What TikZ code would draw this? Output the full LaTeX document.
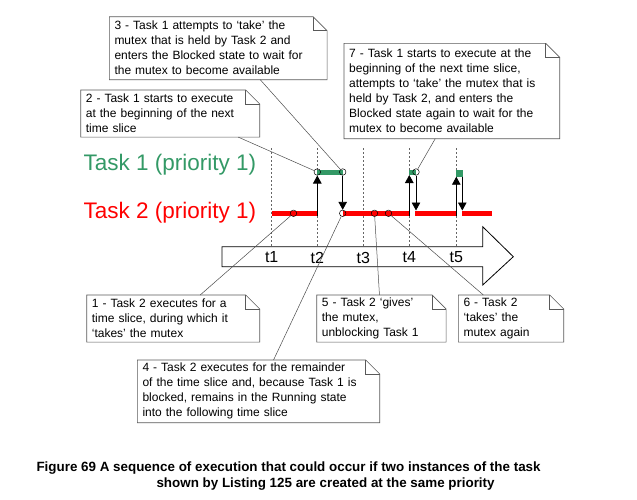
\documentclass[tikz,border=0pt]{standalone}
\usepackage{fontspec}
\setmainfont{Liberation Sans}
\usepackage{tikz}
\usetikzlibrary{
  calc,
  arrows.meta
}
\definecolor{taskgreen}{RGB}{51,153,102}
\definecolor{taskred}{RGB}{255,0,0}
\tikzset{
  note/.style={rectangle, inner xsep=5pt, inner ysep=0pt, align=left,
    anchor=north west, font=\fontsize{12}{15}\selectfont},
  noteline/.style={draw=black!65, line width=0.6pt},
  leader/.style={draw=black!70, line width=0.5pt},
  dot/.style={circle, draw, line width=0.5pt, inner sep=0pt, minimum size=6.5pt},
  flow/.style={-{Triangle[width=8.5pt,length=8pt]}, line width=0.9pt}
}

\begin{document}
\begin{tikzpicture}[
    x=1pt, y=-1pt,
    tick/.style={draw=black!60, line width=0.5pt, dash pattern=on 2pt off 2pt},
    run1/.style={draw=taskgreen, line width=5pt},
    run2/.style={draw=taskred, line width=5pt},
    tasklabel/.style={anchor=base west, font=\fontsize{22.5}{27}\selectfont},
    slice/.style={font=\fontsize{16}{18}\selectfont},
    caption/.style={anchor=base west, font=\bfseries\fontsize{13.4}{15}\selectfont}
]
\useasboundingbox (0,0) rectangle (637,499);

% time slice boundaries
\foreach \x in {271.7,317.3,363.3,409.3,456.3}
  \draw[tick] (\x,148) -- (\x,246.7);

% time axis
\draw[line width=0.8pt, fill=white]
  (222,246.7) -- (482.7,246.7) -- (482.7,226.7) -- (513.3,256.7)
  -- (482.7,285) -- (482.7,266.7) -- (222,266.7) -- cycle;
\foreach \x/\t in {271.7/t1, 317.3/t2, 363.3/t3, 409.3/t4, 456.3/t5}
  \node[slice] (\t) at (\x,257.5) {\t};

% tasks
\node[tasklabel, text=taskgreen] (task1) at (80,170.5) {Task 1 (priority 1)};
\node[tasklabel, text=taskred]   (task2) at (80,218.5) {Task 2 (priority 1)};

\draw[run2] (271.7,213.3) -- (318.3,213.3);
\draw[run2] (342.7,213.3) -- (409.3,213.3);
\draw[run2] (415.3,213.3) -- (456.7,213.3);
\draw[run2] (462.3,213.3) -- (492.3,213.3);
\draw[run1] (317.3,172) -- (342.7,172);
\draw[run1] (409.3,172) -- (416,172);
\draw[run1, line width=6.5pt] (455.5,173.3) -- (463.3,173.3);

% events
\node[dot] (c1) at (293.5,213.3) {};
\node[dot] (c2) at (317.3,172)   {};
\node[dot] (c3) at (342.7,172)   {};
\node[dot] (c4) at (342.7,213.3) {};
\node[dot] (c5) at (374.5,213.3) {};
\node[dot] (c6) at (388.5,213.3) {};
\node[dot] (c7) at (416,172)     {};

% switches
\coordinate (up2)   at (317.3,216);
\coordinate (up4)   at (409.3,216);
\coordinate (top4)  at (409.3,175);
\coordinate (dn4)   at (416,210.5);
\coordinate (up5)   at (456.3,216);
\coordinate (top5)  at (456.3,176.7);
\coordinate (from5) at (462.3,176.7);
\coordinate (dn5)   at (462.3,210.5);

\draw[flow] (up2) -- (c2);
\draw[flow] (c3) -- (c4);
\draw[flow] (up4) -- (top4);
\draw[flow] (c7) -- (dn4);
\draw[flow] (up5) -- (top5);
\draw[flow] (from5) -- (dn5);

% notes
\node[note, text width=162.6pt, minimum width=172.6pt, minimum height=46.7pt]
  (note1) at (86.7,295)
  {1 - Task 2 executes for a\\time slice, during which it\\‘takes’ the mutex};
\node[note, text width=168.6pt, minimum width=178.6pt, minimum height=46.7pt]
  (note2) at (80.7,90)
  {2 - Task 1 starts to execute\\at the beginning of the next\\time slice};
\node[note, text width=207.4pt, minimum width=217.4pt, minimum height=62.6pt]
  (note3) at (109.3,16.7)
  {3 - Task 1 attempts to ‘take’ the\\mutex that is held by Task 2 and\\enters the Blocked state to wait for\\the mutex to become available};
\node[note, text width=232pt, minimum width=242pt, minimum height=62.3pt]
  (note4) at (137.3,360)
  {4 - Task 2 executes for the remainder\\of the time slice and, because Task 1 is\\blocked, remains in the Running state\\into the following time slice};
\node[note, text width=119pt, minimum width=129pt, minimum height=46.7pt]
  (note5) at (316.7,295)
  {5 - Task 2 ‘gives’\\the mutex,\\unblocking Task 1};
\node[note, text width=95pt, minimum width=105pt, minimum height=46.7pt]
  (note6) at (458.3,295)
  {6 - Task 2\\‘takes’ the\\mutex again};
\node[note, text width=205.3pt, minimum width=215.3pt, minimum height=95pt]
  (note7) at (344,43.3)
  {7 - Task 1 starts to execute at the\\beginning of the next time slice,\\attempts to ‘take’ the mutex that is\\held by Task 2, and enters the\\Blocked state again to wait for the\\mutex to become available};

\foreach \i in {1,...,7} {
  \draw[noteline] (note\i.south west) -- (note\i.north west)
    -- ($(note\i.north east)+(-14pt,0pt)$) -- ($(note\i.north east)+(0pt,-14pt)$)
    -- (note\i.south east) -- cycle;
  \draw[noteline] ($(note\i.north east)+(-14pt,0pt)$)
    -- ($(note\i.north east)+(-14pt,-14pt)$) -- ($(note\i.north east)+(0pt,-14pt)$);
}

% leaders
\draw[leader] ($(note1.north west)!0.656!(note1.north east)$) -- (c1);
\draw[leader] ($(note2.south west)!0.88!(note2.south east)$)  -- (c2);
\draw[leader] ($(note3.south west)!0.693!(note3.south east)$) -- (c3);
\draw[leader] ($(note4.north west)!0.562!(note4.north east)$) -- (c4);
\draw[leader] ($(note5.north west)!0.485!(note5.north east)$) -- (c5);
\draw[leader] ($(note6.north west)!0.238!(note6.north east)$) -- (c6);
\draw[leader] ($(note7.south west)!0.423!(note7.south east)$) -- (c7);

% caption
\node[caption] (cap1) at (33,471)
  {Figure 69 A sequence of execution that could occur if two instances of the task};
\node[caption] (cap2) at (153,487)
  {shown by Listing 125 are created at the same priority};

\end{tikzpicture}
\end{document}
